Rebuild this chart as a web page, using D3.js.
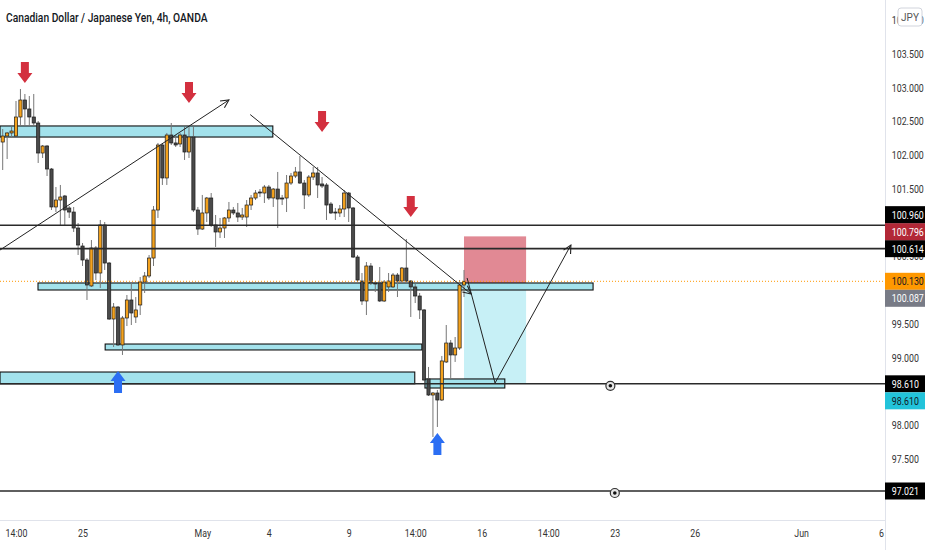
<!DOCTYPE html>
<html>
<head>
<meta charset="utf-8">
<script src="https://cdn.jsdelivr.net/npm/d3@7"></script>
<style>
  body { margin: 0; background: #fff; }
  svg { display: block; font-family: Roboto, "Noto Sans", sans-serif; }
</style>
</head>
<body>
<div id="chart"></div>
<script>
// 4h candles, [open, high, low, close]
var bars = [
  [102.195,102.388,101.780,102.284],[102.284,102.344,101.943,102.329],[102.329,102.418,102.269,102.358],
  [102.284,102.803,102.269,102.566],[102.566,102.981,102.448,102.818],[102.818,102.907,102.448,102.685],
  [102.685,102.877,102.448,102.566],[102.566,102.907,102.448,102.477],[102.477,102.507,101.884,102.032],
  [102.032,102.151,101.958,102.136],[102.136,102.151,101.691,101.795],[101.795,101.810,101.187,101.232],
  [101.232,101.528,101.157,101.335],[101.335,101.558,100.965,101.380],[101.395,101.410,100.965,101.187],
  [101.217,101.246,101.069,101.157],[101.157,101.232,100.861,100.920],[100.920,100.994,100.520,100.668],
  [100.653,100.698,100.357,100.446],[100.446,100.475,99.853,100.075],[100.061,100.742,100.046,100.624],
  [100.624,100.653,100.149,100.253],[100.253,101.039,100.031,100.965],[100.965,101.009,100.298,100.401],
  [100.401,100.416,99.556,99.571],[99.571,99.808,99.156,99.749],[99.749,99.764,99.171,99.186],
  [99.186,99.616,99.038,99.586],[99.586,99.927,99.467,99.853],[99.853,100.120,99.482,99.660],
  [99.601,99.897,99.512,99.705],[99.779,100.194,99.630,100.120],[100.120,100.268,99.957,100.209],
  [100.209,100.520,100.179,100.475],[100.475,101.246,100.357,101.187],[101.187,102.181,101.069,102.151],
  [102.151,102.181,101.558,101.662],[101.662,102.329,101.558,102.299],[102.299,102.477,102.151,102.181],
  [102.181,102.299,102.121,102.151],[102.166,102.329,102.121,102.299],[102.299,102.418,101.929,102.047],
  [102.047,102.418,101.958,102.269],[102.269,102.418,101.157,101.187],[101.187,101.232,100.817,100.905],
  [100.905,101.410,100.891,101.143],[101.143,101.380,101.009,101.365],[101.365,101.439,100.935,100.965],
  [100.965,101.113,100.639,100.861],[100.861,101.069,100.772,100.920],[100.920,101.083,100.772,101.069],
  [101.069,101.306,101.009,101.187],[101.187,101.232,101.113,101.143],[101.143,101.291,101.009,101.083],
  [101.083,101.217,101.039,101.113],[101.083,101.335,100.935,101.261],[101.261,101.410,101.187,101.365],
  [101.365,101.483,101.335,101.439],[101.454,101.498,101.380,101.439],[101.439,101.558,101.291,101.528],
  [101.528,101.558,101.335,101.365],[101.365,101.513,101.232,101.498],[101.498,101.751,100.920,101.350],
  [101.365,101.410,101.261,101.350],[101.365,101.706,101.157,101.587],[101.587,101.736,101.558,101.691],
  [101.691,101.825,101.662,101.751],[101.751,101.988,101.573,101.587],[101.587,101.632,101.202,101.410],
  [101.410,101.706,101.380,101.676],[101.676,101.825,101.632,101.736],[101.736,101.825,101.365,101.558],
  [101.573,101.676,101.513,101.543],[101.558,101.587,101.039,101.261],[101.276,101.306,101.128,101.143],
  [101.157,101.217,101.039,101.143],[101.143,101.261,101.083,101.202],[101.202,101.483,101.083,101.439],
  [101.439,101.454,101.009,101.217],[101.217,101.232,100.475,100.490],[100.490,100.520,100.120,100.149],
  [100.134,100.253,99.779,99.838],[99.838,100.416,99.630,100.357],[100.357,100.401,100.075,100.105],
  [100.105,100.134,99.971,100.090],[100.105,100.342,99.823,99.838],[99.838,100.149,99.823,100.120],
  [100.046,100.253,99.971,100.134],[100.046,100.253,100.031,100.223],[100.223,100.253,99.897,100.134],
  [100.134,100.342,100.105,100.327],[100.327,100.757,100.120,100.134],[100.134,100.149,99.601,100.046],
  [100.046,100.090,99.808,99.912],[99.912,99.957,99.571,99.705],[99.705,99.719,98.652,98.667],
  [98.682,98.860,98.430,98.444],[98.444,98.489,97.822,98.474],[98.474,98.519,97.970,98.370],
  [98.370,99.023,98.355,98.949],[98.934,99.482,98.919,99.215],[99.215,99.260,98.697,99.038],
  [99.038,99.304,98.934,99.141],[99.141,100.149,99.112,100.075],[100.075,100.298,99.897,100.130]
];

// x axis ticks (bar index) and labels
var tickBars   = [3, 18, 45, 60, 78, 93, 108, 123, 138, 156, 180, 198];
var tickLabels = ["14:00", "25", "May", "4", "9", "14:00", "16", "14:00", "23", "26", "Jun", "6"];
var priceTicks = [97, 97.5, 98, 98.5, 99, 99.5, 100, 100.5, 101, 101.5, 102, 102.5, 103, 103.5, 104];

// drawings
var hLines = [100.960, 100.614, 98.610, 97.021];
var lastPrice = 100.130;
// zones: [fromBar, toBar, top, bottom]
var zones = [
  [-0.6, 60.9, 102.433, 102.269],
  [7.96, 133.1, 100.105, 100.001],
  [23.1, 94.5, 99.200, 99.112],
  [-0.6, 92.9, 98.785, 98.610],
  [95.2, 113.2, 98.682, 98.548]
];
// polylines [bar, price] ending with an arrow head
var trendLines = [
  [[-0.6, 100.594], [51.0, 102.818]],
  [[55.8, 102.602], [105.6, 99.942]],
  [[104.7, 100.179], [111.0, 98.622], [128.1, 100.668]]
];
var downArrows = [[5, 103.070], [42, 102.774], [72, 102.344], [92, 101.083]];
var upArrows   = [[26, 98.800], [98, 97.881]];
// short position: bars, entry, stop, target
var posBars = [104, 118];
var posEntry = 100.087, posStop = 100.796, posTarget = 98.610;
var markers = [[137, 98.610], [138, 97.021]];
var tagValues = [100.614, 100.130, 98.610, 97.021, 100.796, 100.960, 100.087, 98.610];

var W = 932, H = 550, plotW = 885, plotH = 520;
var tagBg = ["#000", "#ff9800", "#000", "#000", "#b22837", "#000", "#787b86", "#22c3da"];
var tagFg = ["#fff", "#131722", "#fff", "#fff", "#fff", "#fff", "#fff", "#131722"];

var svg = d3.select("#chart").append("svg").attr("width", W).attr("height", H);

var x = d3.scaleLinear().domain([0, 104]).range([2.7, 464]);
var y = d3.scaleLinear().domain([96.591, 104.3006]).range([plotH, 0]);
var bw = (x(1) - x(0)) * 0.72;

var defs = svg.append("defs");
defs.append("clipPath").attr("id", "plotclip")
  .append("rect").attr("width", plotW).attr("height", plotH);
defs.append("marker").attr("id", "head")
  .attr("viewBox", "0 0 10 10").attr("refX", 9).attr("refY", 5)
  .attr("markerWidth", 10).attr("markerHeight", 10)
  .attr("markerUnits", "userSpaceOnUse").attr("orient", "auto")
  .append("path").attr("d", "M1,1 L9,5 L1,9")
  .attr("fill", "none").attr("stroke", "#222").attr("stroke-width", 1.1);

var plot = svg.append("g").attr("clip-path", "url(#plotclip)");

// position tool
plot.append("rect")
  .attr("x", x(posBars[0])).attr("width", x(posBars[1]) - x(posBars[0]))
  .attr("y", y(posStop)).attr("height", y(posEntry) - y(posStop))
  .attr("fill", "rgba(200,40,60,0.55)");
plot.append("rect")
  .attr("x", x(posBars[0])).attr("width", x(posBars[1]) - x(posBars[0]))
  .attr("y", y(posEntry)).attr("height", y(posTarget) - y(posEntry))
  .attr("fill", "rgba(0,188,212,0.22)");

// zones
plot.selectAll(".zone").data(zones).join("rect")
  .attr("class", "zone")
  .attr("x", function(d) { return x(d[0]); })
  .attr("width", function(d) { return x(d[1]) - x(d[0]); })
  .attr("y", function(d) { return y(d[2]); })
  .attr("height", function(d) { return y(d[3]) - y(d[2]); })
  .attr("fill", "#a3e2ec")
  .attr("stroke", "#111").attr("stroke-width", 1.1);

// candles
var candle = plot.selectAll(".candle").data(bars).join("g")
  .attr("class", "candle")
  .attr("transform", function(d, i) { return "translate(" + x(i) + ",0)"; });
candle.append("line")
  .attr("y1", function(d) { return y(d[1]); })
  .attr("y2", function(d) { return y(d[2]); })
  .attr("stroke", "#777").attr("stroke-width", 1);
candle.append("rect")
  .attr("x", -bw / 2).attr("width", bw)
  .attr("y", function(d) { return y(Math.max(d[0], d[3])); })
  .attr("height", function(d) { return Math.max(1, Math.abs(y(d[0]) - y(d[3]))); })
  .attr("fill", function(d) { return d[3] >= d[0] ? "#f4a21d" : "#4a4a4a"; })
  .attr("stroke", "#1c1c1c").attr("stroke-width", 0.7);

// horizontal lines
plot.selectAll(".hline").data(hLines).join("line")
  .attr("class", "hline")
  .attr("x1", 0).attr("x2", plotW)
  .attr("y1", function(d) { return y(d); }).attr("y2", function(d) { return y(d); })
  .attr("stroke", "#2a2a2a").attr("stroke-width", 1.6);

plot.append("line")
  .attr("x1", 0).attr("x2", plotW)
  .attr("y1", y(lastPrice)).attr("y2", y(lastPrice))
  .attr("stroke", "#ff9800").attr("stroke-width", 1).attr("stroke-dasharray", "1,2");

// trend lines
var lineGen = d3.line().x(function(d) { return x(d[0]); }).y(function(d) { return y(d[1]); });
plot.selectAll(".trend").data(trendLines).join("path")
  .attr("class", "trend")
  .attr("d", lineGen)
  .attr("fill", "none").attr("stroke", "#222").attr("stroke-width", 1)
  .attr("marker-end", "url(#head)");

// marker icons on lines
var mk = plot.selectAll(".mk").data(markers).join("g")
  .attr("class", "mk")
  .attr("transform", function(d) { return "translate(" + x(d[0]) + "," + (y(d[1]) + 2) + ")"; });
mk.append("circle").attr("r", 4.5).attr("fill", "#e6e6e6").attr("stroke", "#333").attr("stroke-width", 1.2);
mk.append("circle").attr("r", 1.8).attr("fill", "#111");

// signal arrows
plot.selectAll(".down").data(downArrows).join("path")
  .attr("class", "down")
  .attr("transform", function(d) { return "translate(" + x(d[0]) + "," + y(d[1]) + ")"; })
  .attr("d", "M-4,-21 L4,-21 L4,-10 L7.5,-10 L0,0 L-7.5,-10 L-4,-10 Z")
  .attr("fill", "#d3303f");
plot.selectAll(".up").data(upArrows).join("path")
  .attr("class", "up")
  .attr("transform", function(d) { return "translate(" + x(d[0]) + "," + y(d[1]) + ")"; })
  .attr("d", "M0,0 L7.5,10 L4,10 L4,22 L-4,22 L-4,10 L-7.5,10 Z")
  .attr("fill", "#2b6ef3");

// borders
svg.append("line").attr("x1", 0).attr("x2", plotW).attr("y1", plotH + 0.5).attr("y2", plotH + 0.5)
  .attr("stroke", "#e0e3eb");
svg.append("line").attr("x1", plotW + 0.5).attr("x2", plotW + 0.5).attr("y1", 0).attr("y2", H)
  .attr("stroke", "#e0e3eb");

// x axis
var xAxis = d3.axisBottom(x).tickValues(tickBars)
  .tickFormat(function(d, i) { return tickLabels[i]; })
  .tickSize(0).tickPadding(9);
var gx = svg.append("g").attr("transform", "translate(0," + plotH + ")").call(xAxis);
gx.select(".domain").remove();
gx.selectAll("text").attr("transform", "scale(0.8,1)")
  .attr("font-size", 11).attr("font-family", "Roboto").attr("fill", "#333");

// price tags, pushed apart like the platform does
var tagH = 17;
var placed = [];
tagValues.forEach(function(v, k) {
  var cy = y(v);
  for (var it = 0; it < 10; it++) {
    var hit = placed.find(function(p) { return Math.abs(p.cy - cy) < tagH - 0.01; });
    if (!hit) break;
    cy = y(v) < hit.cy ? hit.cy - tagH : hit.cy + tagH;
  }
  placed.push({ v: v, cy: cy, k: k });
});

// a tick label fully hidden behind tags is not drawn
function covered(ty) {
  for (var yy = ty - 4; yy <= ty + 4; yy += 1) {
    var inTag = placed.some(function(p) { return Math.abs(p.cy - yy) <= tagH / 2; });
    if (!inTag) return false;
  }
  return true;
}
var shownTicks = priceTicks.filter(function(v) { return !covered(y(v)); });

// y axis
var yAxis = d3.axisRight(y).tickValues(shownTicks).tickFormat(d3.format(".3f")).tickSize(0);
var gy = svg.append("g").attr("transform", "translate(" + plotW + ",0)").call(yAxis);
gy.select(".domain").remove();
gy.selectAll("text").attr("x", 8.5).attr("transform", "scale(0.8,1)")
  .attr("font-size", 11).attr("font-family", "Roboto").attr("fill", "#333");

var tag = svg.selectAll(".tag").data(placed).join("g")
  .attr("class", "tag")
  .attr("transform", function(d) { return "translate(" + plotW + "," + d.cy + ")"; });
tag.append("rect").attr("x", 0).attr("y", -tagH / 2).attr("width", 40).attr("height", tagH)
  .attr("fill", function(d) { return tagBg[d.k]; });
tag.append("text").attr("x", 8.5).attr("dy", "0.35em")
  .attr("transform", "scale(0.8,1)")
  .attr("font-size", 11).attr("font-family", "Roboto")
  .attr("fill", function(d) { return tagFg[d.k]; })
  .text(function(d) { return d3.format(".3f")(d.v); });

// currency badge
var badge = svg.append("g").attr("transform", "translate(898,8)");
badge.append("rect").attr("width", 24).attr("height", 18).attr("rx", 3)
  .attr("fill", "#fff").attr("stroke", "#d1d4dc");
badge.append("text").attr("x", 12).attr("y", 13).attr("text-anchor", "middle")
  .attr("font-size", 10).attr("fill", "#555").text("JPY");

// title
svg.append("text").attr("transform", "translate(6,21.5) scale(0.79,1)")
  .attr("font-size", 13).attr("font-family", "Roboto").attr("font-weight", 500)
  .attr("fill", "#131722")
  .text("Canadian Dollar / Japanese Yen, 4h, OANDA");
</script>
</body>
</html>
